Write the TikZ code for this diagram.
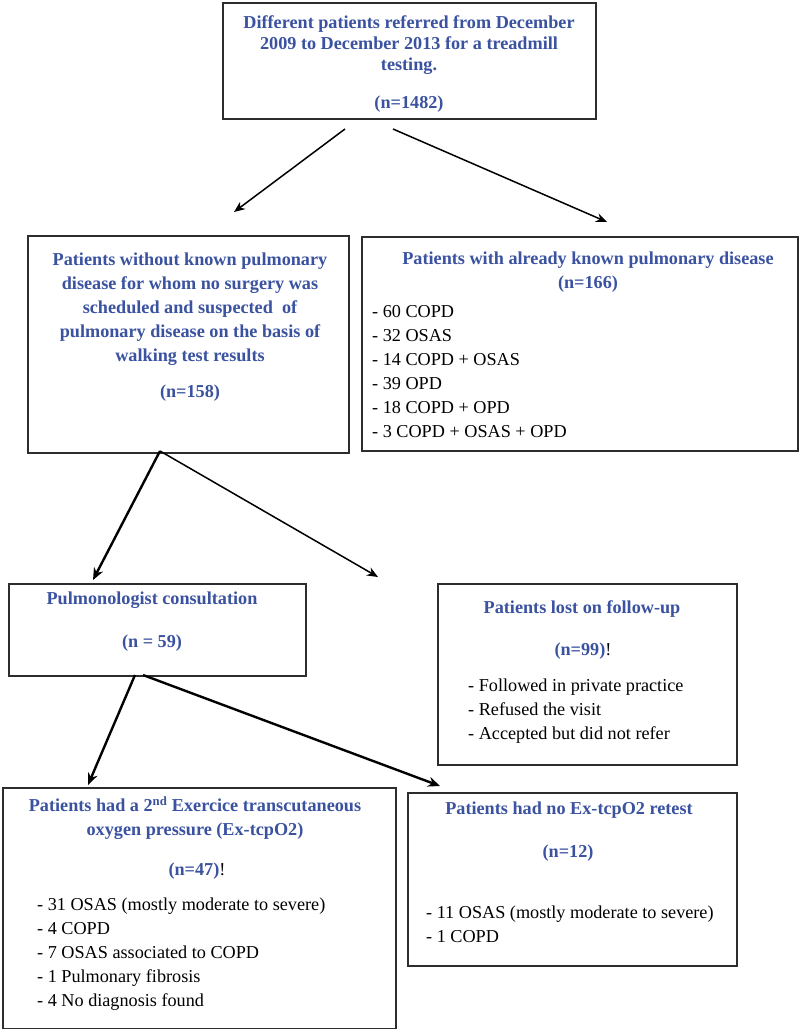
\documentclass[tikz,border=0pt]{standalone}
\usepackage{fontspec}
\setmainfont{Liberation Serif}
\usetikzlibrary{arrows.meta}
\definecolor{headblue}{RGB}{58,82,160}
\definecolor{boxgray}{RGB}{45,45,45}
\tikzset{
  box/.style={draw=boxgray, line width=1.6bp, rectangle, inner sep=0pt, anchor=north west},
  head/.style={text=headblue, font=\fontsize{18.2bp}{24bp}\selectfont\bfseries, align=center, anchor=north, inner sep=0pt},
  listtext/.style={text=black, font=\fontsize{18.2bp}{24bp}\selectfont, align=left, anchor=north west, inner sep=0pt},
  arr/.style={draw=black, line width=1.5bp, -{Stealth[length=11bp,width=9bp]}},
  thickarr/.style={draw=black, line width=2.4bp, -{Stealth[length=12bp,width=10bp]}}
}
\begin{document}
\begin{tikzpicture}[x=1bp,y=-1bp]
\useasboundingbox (0,0) rectangle (800,1029);
\fill[white] (0,0) rectangle (800,1029);

% boxes
\node[box, minimum width=373bp, minimum height=116bp] (top) at (222,2) {};
\node[box, minimum width=321bp, minimum height=217bp] (left) at (27,235) {};
\node[box, minimum width=436bp, minimum height=214bp] (right) at (361,236) {};
\node[box, minimum width=297bp, minimum height=92bp] (pulmo) at (8,583) {};
\node[box, minimum width=299bp, minimum height=181bp] (lost) at (437,583) {};
\node[box, minimum width=393bp, minimum height=241bp] (retest) at (2,787) {};
\node[box, minimum width=329bp, minimum height=173bp] (noretest) at (407,792) {};

% texts
\node[head, font=\fontsize{18.2bp}{21bp}\selectfont\bfseries] (topT) at (409,15)
  {Different patients referred from December\\2009 to December 2013 for a treadmill\\testing.};
\node[head] (topN) at (409,96) {(n=1482)};

\node[head] (leftT) at (190,253)
  {Patients without known pulmonary\\disease for whom no surgery was\\scheduled and suspected\ \ of\\pulmonary disease on the basis of\\walking test results};
\node[head] (leftN) at (190,385) {(n=158)};

\node[head] (rightT) at (588,252) {Patients with already known pulmonary disease\\(n=166)};
\node[listtext] (rightL) at (372,305)
  {- 60 COPD\\- 32 OSAS\\- 14 COPD + OSAS\\- 39 OPD\\- 18 COPD + OPD\\- 3 COPD + OSAS + OPD};

\node[head] (pulmoT) at (152,592) {Pulmonologist consultation};
\node[head] (pulmoN) at (152,635) {(n = 59)};

\node[head] (lostT) at (582,600) {Patients lost on follow-up};
\node[head] (lostN) at (583,643) {(n=99){\normalfont\color{black}!}};
\node[listtext] (lostL) at (468,679)
  {- Followed in private practice\\- Refused the visit\\- Accepted but did not refer};

\node[head] (retestT) at (195,796)
  {Patients had a 2\textsuperscript{nd} Exercice transcutaneous\\oxygen pressure (Ex-tcpO2)};
\node[head] (retestN) at (197,863) {(n=47){\normalfont\color{black}!}};
\node[listtext] (retestL) at (37,898)
  {- 31 OSAS (mostly moderate to severe)\\- 4 COPD\\- 7 OSAS associated to COPD\\- 1 Pulmonary fibrosis\\- 4 No diagnosis found};

\node[head] (noretestT) at (569,802) {Patients had no Ex-tcpO2 retest};
\node[head] (noretestN) at (568,845) {(n=12)};
\node[listtext] (noretestL) at (426,906)
  {- 11 OSAS (mostly moderate to severe)\\- 1 COPD};

% connector end points
\coordinate (s1) at (345,129);
\coordinate (e1) at (234,212);
\coordinate (s2) at (393,129);
\coordinate (e2) at (607,222);
\coordinate (s3) at (160,451);
\coordinate (e3) at (93,580);
\coordinate (e4) at (378,577);
\coordinate (s5) at (135,675);
\coordinate (e5) at (88,785);
\coordinate (s6) at (143,675);
\coordinate (e6) at (440,786);

\draw[arr] (s1) -- (e1);
\draw[arr] (s2) -- (e2);
\draw[thickarr] (s3) -- (e3);
\draw[arr] (s3) -- (e4);
\draw[thickarr] (s5) -- (e5);
\draw[thickarr] (s6) -- (e6);
\end{tikzpicture}
\end{document}
